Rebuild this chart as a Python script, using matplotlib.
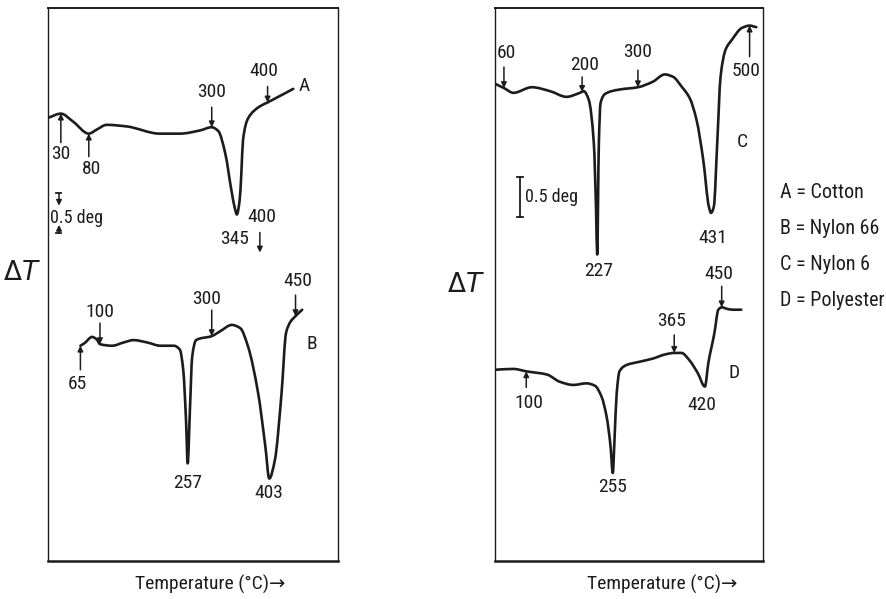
import numpy as np
import matplotlib
matplotlib.use("Agg")
import matplotlib.pyplot as plt
from matplotlib import font_manager as fm
from matplotlib.transforms import offset_copy
from matplotlib.path import Path
from matplotlib.patches import PathPatch

# ---- DTA traces: temperature (degC) and differential temperature (deg, arbitrary zero) ----
cotton_T = [8, 30, 52, 80, 94, 112, 148, 207, 243, 279, 300, 312, 324, 336, 341, 345,
            350, 353, 356, 365, 386, 400, 446]
cotton_dT = [5.54, 5.59, 5.49, 5.34, 5.39, 5.45, 5.43, 5.34, 5.34, 5.38, 5.42, 5.37, 5.10,
             4.60, 4.42, 4.33, 4.51, 4.84, 5.26, 5.53, 5.68, 5.73, 5.90]

nylon66_T = [65, 72, 86, 94, 100, 122, 142, 160, 185, 208, 232, 243, 249, 254, 257, 261,
             265, 272, 300, 315, 336, 351, 365, 383, 396, 403, 413, 425, 433, 441, 450, 462]
nylon66_dT = [2.69, 2.72, 2.80, 2.77, 2.71, 2.69, 2.73, 2.76, 2.73, 2.69, 2.69, 2.64, 2.39,
              1.76, 1.22, 1.89, 2.55, 2.76, 2.81, 2.87, 2.95, 2.91, 2.68, 2.10, 1.43, 1.03,
              1.26, 2.10, 2.85, 2.99, 3.06, 3.14]

nylon6_T = [45, 60, 77, 110, 143, 172, 196, 203, 212, 221, 225, 227, 230, 233, 242, 266,
            300, 327, 348, 363, 378, 393, 405, 417, 427, 431, 436, 442, 448, 457, 468, 486,
            500, 512]
nylon6_dT = [5.96, 5.91, 5.85, 5.92, 5.87, 5.80, 5.85, 5.87, 5.76, 5.22, 4.39, 3.83, 5.22,
             5.72, 5.84, 5.89, 5.92, 5.99, 6.08, 6.05, 5.93, 5.78, 5.51, 5.01, 4.43, 4.35,
             4.43, 5.22, 6.05, 6.39, 6.51, 6.66, 6.69, 6.67]

polyester_T = [45, 77, 100, 137, 160, 184, 208, 223, 235, 244, 251, 255, 258, 262, 267,
               280, 303, 327, 348, 365, 378, 392, 407, 420, 426, 437, 444, 450, 460, 470, 485]
polyester_dT = [2.39, 2.40, 2.37, 2.33, 2.24, 2.20, 2.22, 2.19, 2.05, 1.80, 1.43, 1.10, 1.51,
                2.10, 2.37, 2.45, 2.49, 2.53, 2.58, 2.60, 2.60, 2.51, 2.35, 2.18, 2.47, 2.85,
                3.14, 3.17, 3.15, 3.14, 3.14]

curve_letters = ["A", "B", "C", "D"]
fibre_names = ["Cotton", "Nylon 66", "Nylon 6", "Polyester"]

# marked temperatures on each trace
cotton_marks = [30, 80, 300, 400]
cotton_peak = 345
nylon66_marks = [65, 100, 300, 450]
nylon66_peaks = [257, 403]
nylon6_marks = [60, 200, 300, 500]
nylon6_peaks = [227, 431]
polyester_marks = [100, 365, 450]
polyester_peaks = [255, 420]

# ---- style: prefer a narrow sans if one is installed ----
names = {f.name for f in fm.fontManager.ttflist}
narrow = None
for cand in ["Liberation Sans Narrow", "Roboto Condensed", "Open Sans Condensed",
             "Noto Sans Condensed"]:
    if cand in names:
        narrow = cand
        break
if narrow:
    plt.rcParams["font.family"] = [narrow, "DejaVu Sans"]
    NUM, SMALL, CAP, KEY = 14.0, 13.0, 14.0, 14.5
else:
    plt.rcParams["font.family"] = ["Liberation Sans", "DejaVu Sans"]
    NUM, SMALL, CAP, KEY = 12.8, 11.8, 12.3, 11.3

INK = "#1c1c1c"
LW = 1.9

fig = plt.figure(figsize=(8.86, 5.99), dpi=100)
fig.patch.set_facecolor("white")
axL = fig.add_axes([48 / 886, 1 - 561 / 599, 290 / 886, 553 / 599])
axR = fig.add_axes([495 / 886, 1 - 561 / 599, 268 / 886, 553 / 599])
for ax, xl in ((axL, (7, 526)), (axR, (44, 524))):
    ax.set_xlim(*xl)
    ax.set_ylim(0, 6.91)
    ax.set_xticks([])
    ax.set_yticks([])
    ax.set_facecolor("none")
    for s in ax.spines.values():
        s.set_linewidth(1.0)
        s.set_color(INK)
    ax.spines["bottom"].set_linewidth(1.8)
    ax.spines["top"].set_linewidth(1.4)

arrow_kw = dict(arrowstyle="-|>", lw=1.1, color=INK, mutation_scale=8,
                shrinkA=0, shrinkB=0)


def pen_slopes(x, y):
    """Shape-preserving tangents so the pen line never overshoots the readings."""
    h = np.diff(x)
    d = np.diff(y) / h
    m = np.zeros_like(y)
    for k in range(1, len(x) - 1):
        if d[k - 1] * d[k] > 0:
            w1 = 2 * h[k] + h[k - 1]
            w2 = h[k] + 2 * h[k - 1]
            m[k] = (w1 + w2) / (w1 / d[k - 1] + w2 / d[k])
    m[0], m[-1] = d[0], d[-1]
    return m


def trace(ax, T, dT):
    x = np.asarray(T, float)
    y = np.asarray(dT, float)
    m = pen_slopes(x, y)
    verts = [(x[0], y[0])]
    codes = [Path.MOVETO]
    for k in range(len(x) - 1):
        h = x[k + 1] - x[k]
        verts += [(x[k] + h / 3, y[k] + m[k] * h / 3),
                  (x[k + 1] - h / 3, y[k + 1] - m[k + 1] * h / 3),
                  (x[k + 1], y[k + 1])]
        codes += [Path.CURVE4] * 3
    ax.add_patch(PathPatch(Path(verts, codes), fill=False, edgecolor=INK, lw=LW,
                           capstyle="round", joinstyle="round"))


def mark(ax, T, dT, temp, arrow_len, text_off):
    """Arrow onto the trace at `temp` plus its temperature label."""
    y = np.interp(temp, T, dT)
    if arrow_len:
        ax.annotate("", xy=(temp, y), xytext=(0, arrow_len), textcoords="offset pixels",
                    arrowprops=arrow_kw)
    ax.annotate(str(temp), xy=(temp, y), xytext=text_off, textcoords="offset pixels",
                ha="center", va="center", fontsize=NUM, color=INK)


def peak(ax, T, dT, temp, text_off):
    y = np.interp(temp, T, dT)
    ax.annotate(str(temp), xy=(temp, y), xytext=text_off, textcoords="offset pixels",
                ha="center", va="center", fontsize=NUM, color=INK)


# ---- left panel: cotton (A) and nylon 66 (B) ----
trace(axL, cotton_T, cotton_dT)
trace(axL, nylon66_T, nylon66_dT)

for temp, al, off in zip(cotton_marks, [-29, -23, 20, 16],
                         [(0, -40), (3, -35), (0, 35), (-4, 31)]):
    mark(axL, cotton_T, cotton_dT, temp, al, off)
peak(axL, cotton_T, cotton_dT, cotton_peak, (-2, -25))

# second 400 marker beside the cotton endotherm
ymin = np.interp(cotton_peak, cotton_T, cotton_dT)
axL.annotate("400", xy=(cotton_peak, ymin), xytext=(25, -3), textcoords="offset pixels",
             ha="center", va="center", fontsize=NUM, color=INK)
head_tr = offset_copy(axL.transData, fig=fig, x=23, y=-38, units="dots")
axL.annotate("", xy=(cotton_peak, ymin), xycoords=head_tr, xytext=(0, 20),
             textcoords="offset pixels", arrowprops=arrow_kw)

for temp, al, off in zip(nylon66_marks, [-24, 21, 26, 21],
                         [(-3, -38), (0, 32), (-5, 37), (2, 35)]):
    mark(axL, nylon66_T, nylon66_dT, temp, al, off)
for temp, off in zip(nylon66_peaks, [(0, -20), (0, -14)]):
    peak(axL, nylon66_T, nylon66_dT, temp, off)

axL.text(465, 5.93, curve_letters[0], fontsize=NUM, color=INK, ha="center", va="center")
axL.text(479, 2.71, curve_letters[1], fontsize=NUM, color=INK, ha="center", va="center")

# 0.5 deg scale marker
axL.plot([22, 31], [4.6, 4.6], color=INK, lw=1.3)
axL.plot([22, 31], [4.1, 4.1], color=INK, lw=1.3)
axL.annotate("", xy=(26.7, 4.44), xytext=(26.7, 4.6), arrowprops=arrow_kw)
axL.annotate("", xy=(26.7, 4.2), xytext=(26.7, 4.1), arrowprops=arrow_kw)
axL.text(10.5, 4.28, "0.5 deg", fontsize=SMALL, color=INK, ha="left", va="center")

# ---- right panel: nylon 6 (C) and polyester (D) ----
trace(axR, nylon6_T, nylon6_dT)
trace(axR, polyester_T, polyester_dT)

for temp, al, off in zip(nylon6_marks, [21, 15, 17, -31],
                         [(2, 35), (2, 27), (0, 35), (-4, -45)]):
    mark(axR, nylon6_T, nylon6_dT, temp, al, off)
for temp, off in zip(nylon6_peaks, [(1, -17), (2, -25)]):
    peak(axR, nylon6_T, nylon6_dT, temp, off)

for temp, al, off in zip(polyester_marks, [-16, 18, 21],
                         [(3, -32), (-3, 32), (-3, 33)]):
    mark(axR, polyester_T, polyester_dT, temp, al, off)
for temp, off in zip(polyester_peaks, [(0, -14), (-3, -18)]):
    peak(axR, polyester_T, polyester_dT, temp, off)

axR.text(487.8, 5.23, curve_letters[2], fontsize=NUM, color=INK, ha="center", va="center")
axR.text(471.7, 2.35, curve_letters[3], fontsize=NUM, color=INK, ha="center", va="center")

axR.plot([88.9, 88.9], [4.8, 4.3], color=INK, lw=1.3)
axR.plot([84, 94], [4.8, 4.8], color=INK, lw=1.3)
axR.plot([84, 94], [4.3, 4.3], color=INK, lw=1.3)
axR.text(97.5, 4.55, "0.5 deg", fontsize=SMALL, color=INK, ha="left", va="center")

# ---- axis captions and key ----
for xc in (210 / 886, 662 / 886):
    fig.text(xc, 1 - 584 / 599, "Temperature (°C)\u2192", fontsize=CAP, color=INK,
             ha="center", va="center")
fig.text(22 / 886, 1 - 273 / 599, r"$\Delta T$", fontsize=19, color=INK,
         ha="center", va="center")
fig.text(466 / 886, 1 - 285 / 599, r"$\Delta T$", fontsize=19, color=INK,
         ha="center", va="center")

for letter, name, yp in zip(curve_letters, fibre_names, [193, 228, 264, 300]):
    fig.text(780 / 886, 1 - yp / 599, f"{letter} = {name}", fontsize=KEY, color=INK,
             ha="left", va="center")

fig.savefig("out.png", dpi=100, facecolor="white")
